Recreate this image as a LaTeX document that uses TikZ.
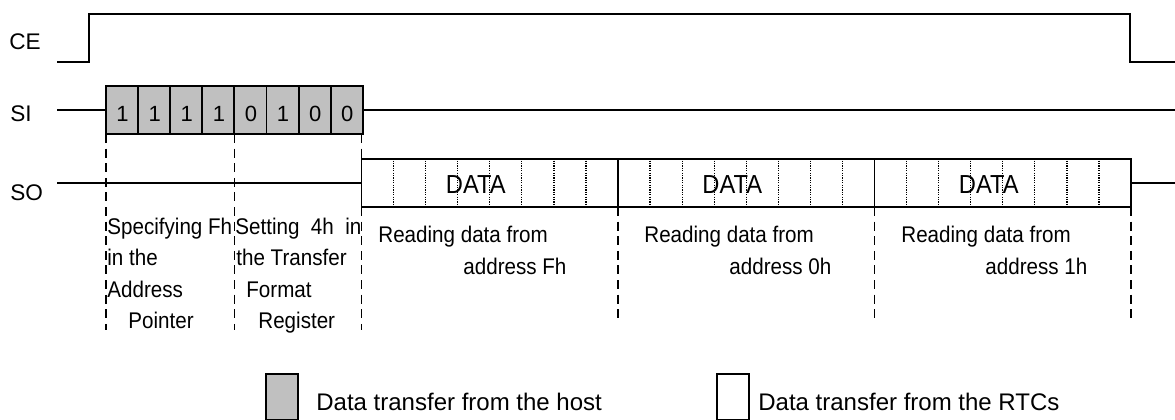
\documentclass[tikz,border=0pt]{standalone}
\usepackage{fontspec}
\setmainfont{Liberation Sans}
\definecolor{hostfill}{HTML}{C0C0C0}
\newcommand{\vstr}[1]{\scalebox{1}[1.1]{#1}}
\begin{document}
\begin{tikzpicture}[x=0.5pt,y=-0.5pt,
  wave/.style={line width=0.95pt, line join=miter},
  boxline/.style={line width=0.95pt},
  dashv/.style={line width=0.85pt, dash pattern=on 4.5pt off 2.8pt},
  dotv/.style={line width=0.6pt, dash pattern=on 0.6pt off 0.6pt},
  lbl/.style={font=\fontsize{11.3}{13}\selectfont, anchor=base west, inner sep=0pt},
  bit/.style={font=\fontsize{11}{13}\selectfont, anchor=base, inner sep=0pt},
  datatxt/.style={font=\fontsize{11.85}{14}\selectfont, anchor=base west, inner sep=0pt},
  desc/.style={font=\fontsize{10.3}{12}\selectfont, anchor=base west, inner sep=0pt},
  legtxt/.style={font=\fontsize{12}{14}\selectfont, anchor=base west, inner sep=0pt}]
\useasboundingbox (0,0) rectangle (1175,419);

% ---- CE ----
\node[lbl] (ce) at (9,49) {CE};
\coordinate (ceA) at (57,62);
\coordinate (ceB) at (1175,62);
\draw[wave] (ceA) -- (89,62) -- (89,14) -- (1130,14) -- (1130,62) -- (ceB);

% ---- SI ----
\node[lbl] (si) at (10,121.5) {SI};
\coordinate (siA) at (57,110);
\coordinate (siB) at (1175,110);
\fill[hostfill] (106,86) rectangle (362.8,134);
\foreach \i in {0,...,7} {
  \draw[boxline] ({106+32.1*\i},86) rectangle ({106+32.1*(\i+1)},134);
}
\foreach \b [count=\i from 0] in {1,1,1,1,0,1,0,0} {
  \node[bit] (bit\i) at ({106+32.1*\i+16.6},121.7) {\b};
}
\coordinate (siL) at (106,110);
\coordinate (siR) at (362.8,110);
\draw[wave] (siA) -- (siL);
\draw[wave] (siR) -- (siB);

% ---- SO ----
\node[lbl] (so) at (10,200) {SO};
\coordinate (soA) at (57,183);
\coordinate (soL) at (361.5,183);
\coordinate (soR) at (1131,183);
\coordinate (soB) at (1175,183);
\draw[wave] (soA) -- (soL);
\draw[wave] (soR) -- (soB);
\foreach \l [count=\k] in {361.5,618,874.5} {
  \foreach \j in {1,...,7} {
    \draw[dotv] ({\l+32.07*\j},160.5) -- ({\l+32.07*\j},206);
  }
  \node[datatxt] (data\k) at ({\l+84},193) {\vstr{DATA}};
}
\draw[boxline] (361.5,159) rectangle (618,207);
\draw[boxline] (618,159) rectangle (874.5,207);
\draw[boxline] (874.5,159) rectangle (1131,207);

% ---- dashed markers ----
\draw[dashv] (106,134) -- (106,330);
\draw[dashv] (234.4,134) -- (234.4,330);
\draw[dashv] (361.5,134) -- (361.5,330);
\draw[dashv] (618,207) -- (618,322);
\draw[dashv] (874.5,207) -- (874.5,322);
\draw[dashv] (1131,207) -- (1131,322);

% ---- descriptions ----
\node[desc] (d1a) at (107,234) {\vstr{Specifying Fh}};
\node[desc] (d1b) at (107,265.5) {\vstr{in the}};
\node[desc] (d1c) at (107,297) {\vstr{Address}};
\node[desc] (d1d) at (128,328.5) {\vstr{Pointer}};

\node[desc] (d2a) at (235,234) {\vstr{Setting\ \ 4h\ \ in}};
\node[desc] (d2b) at (236,265.5) {\vstr{the Transfer}};
\node[desc] (d2c) at (246,297) {\vstr{Format}};
\node[desc] (d2d) at (258,328.5) {\vstr{Register}};

\node[desc] (r1a) at (378,242) {\vstr{Reading data from}};
\node[desc] (r1b) at (463,274) {\vstr{address Fh}};
\node[desc] (r2a) at (644,242) {\vstr{Reading data from}};
\node[desc] (r2b) at (729,274) {\vstr{address 0h}};
\node[desc] (r3a) at (901,242) {\vstr{Reading data from}};
\node[desc] (r3b) at (985,274) {\vstr{address 1h}};

% ---- legend ----
\draw[boxline, fill=hostfill] (266,374) rectangle (298,420);
\node[legtxt] (leg1) at (316,410.5) {Data transfer from the host};
\draw[boxline, fill=white] (717,374) rectangle (749,420);
\node[legtxt] (leg2) at (758,410.5) {Data transfer from the RTCs};
\end{tikzpicture}
\end{document}
